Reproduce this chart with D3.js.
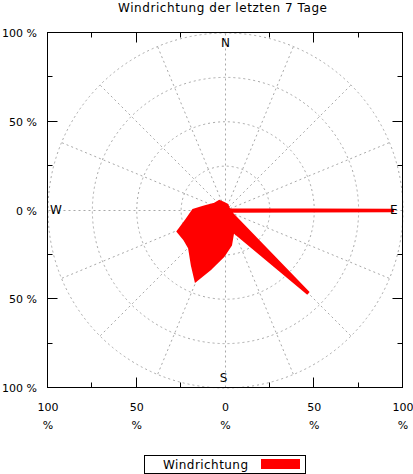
<!DOCTYPE html>
<html>
<head>
<meta charset="utf-8">
<script src="https://cdn.jsdelivr.net/npm/d3@7"></script>
<style>
  html, body { margin: 0; padding: 0; background: #fff; }
  svg { display: block; }
  text { font-family: "DejaVu Sans", sans-serif; fill: #000; }
</style>
</head>
<body>
<svg id="chart" width="413" height="474"></svg>
<script>
// ---- data ----
const title = "Windrichtung der letzten 7 Tage";
const seriesName = "Windrichtung";
// compass direction in degrees (clockwise from north)
const directions = [15, 45, 80, 90, 100, 135, 160, 172, 183, 195, 203, 211, 224, 235, 246, 256, 270, 278, 299, 325, 345];
// share of time in percent
const frequency  = [3, 2, 2, 95, 2, 66, 12, 19.5, 25.5, 34, 42.5, 36, 29, 28, 29, 22.5, 18, 12.5, 7, 6, 4];
const majorTicks = [-100, -50, 0, 50, 100];
const minorTicks = [-75, -25, 25, 75];
const gridRadii = [25, 50, 75, 100];
const compassLabels = ["N", "E", "S", "W"];

// ---- layout ----
const svg = d3.select("#chart");
const pLeft = 48, pRight = 403, pTop = 33, pBottom = 388;
const x = d3.scaleLinear().domain([-100, 100]).range([pLeft, pRight]);
const y = d3.scaleLinear().domain([-100, 100]).range([pBottom, pTop]);
const r = d3.scaleLinear().domain([0, 100]).range([0, (pRight - pLeft) / 2]);
const cx = x(0), cy = y(0);

// title
svg.append("text")
  .attr("x", 222.5).attr("y", 12)
  .attr("text-anchor", "middle")
  .attr("font-size", 12)
  .attr("textLength", 209).attr("lengthAdjust", "spacing")
  .text(title);

// grid
const grid = svg.append("g")
  .attr("fill", "none").attr("stroke", "#a8a8a8")
  .attr("stroke-width", 1).attr("stroke-dasharray", "2,3");
grid.selectAll("circle").data(gridRadii).join("circle")
  .attr("cx", cx).attr("cy", cy).attr("r", d => r(d));
grid.selectAll("line").data(d3.range(0, 360, 22.5)).join("line")
  .attr("x1", cx).attr("y1", cy)
  .attr("x2", d => cx + r(100) * Math.sin(d * Math.PI / 180))
  .attr("y2", d => cy - r(100) * Math.cos(d * Math.PI / 180));

// wind rose polygon
const pts = directions.map((d, i) => ({ dir: d, val: frequency[i] }));
const radial = d3.lineRadial()
  .angle(d => d.dir * Math.PI / 180)
  .radius(d => r(d.val))
  .curve(d3.curveLinearClosed);
svg.append("path")
  .attr("transform", `translate(${cx},${cy})`)
  .attr("d", radial(pts))
  .attr("fill", "#ff0000")
  .attr("stroke", "#ff0000")
  .attr("stroke-width", 3.5)
  .attr("stroke-linejoin", "miter");

// compass labels
const compassPos = {
  N: { x: cx, y: y(100) + 13.5, anchor: "middle" },
  E: { x: x(100) - 13, y: cy + 3.5, anchor: "start" },
  S: { x: cx - 2, y: y(-100) - 6, anchor: "middle" },
  W: { x: x(-100) + 2, y: cy + 3.5, anchor: "start" }
};
svg.selectAll("text.compass").data(compassLabels).join("text")
  .attr("class", "compass")
  .attr("x", d => compassPos[d].x).attr("y", d => compassPos[d].y)
  .attr("text-anchor", d => compassPos[d].anchor)
  .attr("font-size", 12)
  .text(d => d);

// frame
svg.append("rect")
  .attr("x", pLeft - 0.5).attr("y", pTop - 0.5)
  .attr("width", pRight - pLeft).attr("height", pBottom - pTop)
  .attr("fill", "none").attr("stroke", "#000").attr("stroke-width", 1);

// ticks (no tick at 0)
const tickG = svg.append("g").attr("stroke", "#000").attr("stroke-width", 1);
const allTicks = majorTicks.filter(t => t !== 0 && Math.abs(t) !== 100).map(t => ({ v: t, len: 10 }))
  .concat(minorTicks.map(t => ({ v: t, len: 5 })));
allTicks.forEach(t => {
  const px = Math.round(x(t.v)) - 0.5, py = Math.round(y(t.v)) - 0.5;
  tickG.append("line").attr("x1", px).attr("x2", px).attr("y1", pTop - 0.5).attr("y2", pTop - 0.5 + t.len);
  tickG.append("line").attr("x1", px).attr("x2", px).attr("y1", pBottom - 0.5).attr("y2", pBottom - 0.5 - t.len);
  tickG.append("line").attr("y1", py).attr("y2", py).attr("x1", pLeft - 0.5).attr("x2", pLeft - 0.5 + t.len);
  tickG.append("line").attr("y1", py).attr("y2", py).attr("x1", pRight - 0.5).attr("x2", pRight - 0.5 - t.len);
});

// y tick labels
svg.selectAll("text.ylab").data(majorTicks).join("text")
  .attr("class", "ylab")
  .attr("x", 37).attr("y", d => y(d) + 4)
  .attr("text-anchor", "end").attr("font-size", 11)
  .text(d => Math.abs(d) + " %");

// x tick labels (two lines)
const xl = svg.selectAll("g.xlab").data(majorTicks).join("g").attr("class", "xlab");
xl.append("text")
  .attr("x", d => x(d)).attr("y", 411)
  .attr("text-anchor", "middle").attr("font-size", 11)
  .text(d => Math.abs(d));
xl.append("text")
  .attr("x", d => x(d)).attr("y", 429)
  .attr("text-anchor", "middle").attr("font-size", 11)
  .text("%");

// legend
svg.append("rect")
  .attr("x", 144.5).attr("y", 455.5).attr("width", 161).attr("height", 18)
  .attr("fill", "#fff").attr("stroke", "#000").attr("stroke-width", 1);
svg.append("text")
  .attr("x", 163).attr("y", 468.5).attr("font-size", 12)
  .attr("textLength", 85).attr("lengthAdjust", "spacing")
  .text(seriesName);
svg.append("rect")
  .attr("x", 261).attr("y", 459).attr("width", 39).attr("height", 10)
  .attr("fill", "#ff0000");
</script>
</body>
</html>
